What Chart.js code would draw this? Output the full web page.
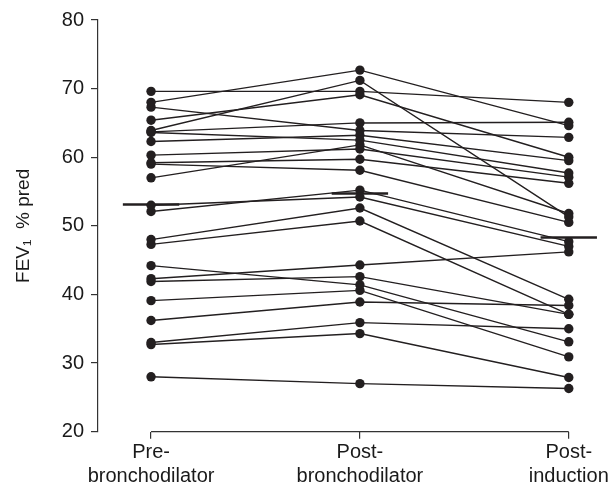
<!DOCTYPE html>
<html>
<head>
<meta charset="utf-8">
<script src="https://cdn.jsdelivr.net/npm/chart.js@4/dist/chart.umd.min.js"></script>
<style>
  html, body { margin: 0; padding: 0; background: #fff; }
  #wrap { width: 613px; height: 499px; }
</style>
</head>
<body>
<div id="wrap"><canvas id="fevChart" width="613" height="499"></canvas></div>
<script>
// categories on the x axis (two-line labels)
const groupLabels = [['Pre-', 'bronchodilator'], ['Post-', 'bronchodilator'], ['Post-', 'induction']];

// FEV1 % pred per patient, same order in each array
const preValues = [69.6, 68.0, 67.3, 65.4, 63.9, 63.7, 63.6, 62.3, 60.3, 59.2, 59.0, 57.0,
                   53.0, 52.1, 48.0, 47.3, 44.2, 42.3, 41.9, 39.1, 36.2, 33.0, 32.7, 28.0];
const postValues = [69.6, 72.7, 63.9, 69.1, 71.2, 65.0, 62.5, 63.2, 61.2, 59.7, 58.1, 61.8,
                    54.2, 55.2, 52.6, 50.7, 41.4, 44.3, 42.6, 40.6, 38.9, 35.9, 34.3, 27.0];
const inductionValues = [68.0, 64.6, 62.9, 60.0, 51.3, 65.1, 57.7, 59.5, 57.1, 56.2, 50.5, 51.8,
                         47.0, 47.7, 39.3, 37.1, 33.1, 46.2, 37.1, 30.9, 38.4, 35.0, 27.9, 26.3];

// group mean bars
const groupMeans = [53.1, 54.7, 48.3];

const yTicks = [20, 30, 40, 50, 60, 70, 80];

const INK = '#231f20';
const FONT = "'Liberation Sans Narrow', 'Arial Narrow', 'Liberation Sans', Arial, sans-serif";

const datasets = [];
preValues.forEach((v, i) => {
  datasets.push({
    data: [{ x: 0, y: v }, { x: 1, y: postValues[i] }, { x: 2, y: inductionValues[i] }],
    borderColor: INK, borderWidth: 1.4,
    pointRadius: 4.7, pointBackgroundColor: INK, pointBorderWidth: 0,
    tension: 0,
  });
});
groupMeans.forEach((m, i) => {
  datasets.push({
    data: [{ x: i - 0.135, y: m }, { x: i + 0.135, y: m }],
    borderColor: INK, borderWidth: 2.5, pointRadius: 0, tension: 0,
  });
});

// x axis drawn only between the first and last group, like the original
const bracketAxis = {
  id: 'bracketAxis',
  afterDraw(chart) {
    const ctx = chart.ctx;
    const x = chart.scales.x;
    const y0 = chart.chartArea.bottom;
    ctx.save();
    ctx.strokeStyle = '#333';
    ctx.lineWidth = 1.2;
    ctx.beginPath();
    ctx.moveTo(x.getPixelForValue(0), y0);
    ctx.lineTo(x.getPixelForValue(2), y0);
    ctx.stroke();
    ctx.restore();
  }
};

new Chart(document.getElementById('fevChart'), {
  type: 'line',
  data: { datasets },
  plugins: [bracketAxis],
  options: {
    responsive: false, animation: false,
    layout: { padding: { top: 20, right: 15, left: 0, bottom: 0 } },
    plugins: { legend: { display: false }, tooltip: { enabled: false } },
    scales: {
      x: {
        type: 'linear', min: -0.254, max: 2.14,
        afterBuildTicks: s => { s.ticks = [0, 1, 2].map(v => ({ value: v })); },
        afterFit: s => { s.height = 67.3; },
        ticks: {
          autoSkip: false, maxRotation: 0, padding: 2, color: '#1a1a1a',
          font: { family: FONT, size: 20 },
          callback: v => groupLabels[v],
        },
        grid: { drawOnChartArea: false, drawTicks: true, tickLength: 7, color: '#333', lineWidth: 1.2 },
        border: { display: false },
      },
      y: {
        min: 20, max: 80,
        afterBuildTicks: s => { s.ticks = yTicks.map(v => ({ value: v })); },
        afterFit: s => { s.width = 98; },
        ticks: { padding: 7, color: '#1a1a1a', font: { family: FONT, size: 20 } },
        grid: { drawOnChartArea: false, drawTicks: true, tickLength: 7, color: '#333', lineWidth: 1.2 },
        border: { display: true, color: '#333', width: 1.2 },
        title: {
          display: true, text: 'FEV\u2081  % pred', color: '#1a1a1a',
          font: { family: FONT, size: 19 }, padding: { top: 12, bottom: 6 },
        },
      },
    },
  },
});
</script>
</body>
</html>
